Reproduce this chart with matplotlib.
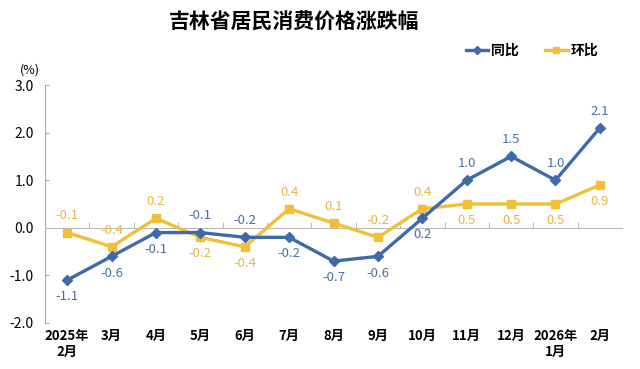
import matplotlib
matplotlib.use("Agg")
import matplotlib.pyplot as plt
from matplotlib.ticker import FixedLocator

plt.rcParams['font.family'] = ['Noto Sans CJK SC', 'DejaVu Sans']

# data
months = ['2025年\n2月', '3月', '4月', '5月', '6月', '7月', '8月', '9月',
          '10月', '11月', '12月', '2026年\n1月', '2月']
yoy = [-1.1, -0.6, -0.1, -0.1, -0.2, -0.2, -0.7, -0.6, 0.2, 1.0, 1.5, 1.0, 2.1]
mom = [-0.1, -0.4, 0.2, -0.2, -0.4, 0.4, 0.1, -0.2, 0.4, 0.5, 0.5, 0.5, 0.9]
# label side: 1 above the point, -1 below
yoy_side = [-1, -1, -1, 1, 1, -1, -1, -1, -1, 1, 1, 1, 1]
mom_side = [1, 1, 1, -1, -1, 1, 1, 1, 1, -1, -1, -1, -1]

blue = '#3e6aa9'
yellow = '#f2bf3a'
blue_txt = '#4a6f9e'
yellow_txt = '#e6b545'

fig = plt.figure(figsize=(6.4, 3.69), dpi=100)
ax = fig.add_axes([0.0703, 0.1247, 0.9017, 0.6449])

x = list(range(len(months)))
ax.plot(x, mom, color=yellow, lw=2.4, marker='s', ms=5.5, label='环比', zorder=3)
ax.plot(x, yoy, color=blue, lw=2.4, marker='D', ms=5, label='同比', zorder=4)

for xi, v, s in zip(x, yoy, yoy_side):
    ax.annotate(f'{v:.1f}', (xi, v), xytext=(0, 12 * s), textcoords='offset points',
                ha='center', va='center', color=blue_txt, fontsize=9.5)
for xi, v, s in zip(x, mom, mom_side):
    ax.annotate(f'{v:.1f}', (xi, v), xytext=(0, 12 * s), textcoords='offset points',
                ha='center', va='center', color=yellow_txt, fontsize=9.5)

ax.set_xlim(-0.5, len(months) - 0.5)
ax.set_ylim(-2.0, 3.0)
ax.set_yticks([-2, -1, 0, 1, 2, 3])
ax.set_yticklabels([f'{t:.1f}' for t in [-2, -1, 0, 1, 2, 3]], fontsize=10)
ax.tick_params(axis='y', direction='in', length=3, color='#aaaaaa', pad=8)

# zero line with small category separators
for side in ['top', 'right']:
    ax.spines[side].set_visible(False)
ax.spines['left'].set_color('#aaaaaa')
ax.spines['bottom'].set_position(('data', 0))
ax.spines['bottom'].set_color('#bbbbbb')
ax.xaxis.set_major_locator(FixedLocator([i + 0.5 for i in range(len(months) - 1)]))
ax.tick_params(axis='x', direction='in', length=4, color='#bbbbbb', labelbottom=False)

sec = ax.secondary_xaxis(-0.0)
sec.set_xticks(x)
sec.set_xticklabels(months, fontsize=9.5, fontweight='bold')
sec.tick_params(length=0, pad=4)
sec.spines['bottom'].set_visible(False)

fig.text(0.046, 0.81, '(%)', fontsize=9, ha='center', va='center')
fig.text(0.46, 0.94, '吉林省居民消费价格涨跌幅', fontsize=15, fontweight='bold',
         ha='center', va='center')

handles, labels = ax.get_legend_handles_labels()
leg = ax.legend(handles[::-1], labels[::-1], loc='upper right', ncol=2, frameon=False,
                bbox_to_anchor=(0.98, 1.225), fontsize=10, handlelength=1.6,
                columnspacing=1.9, handletextpad=0.2, markerscale=0.75)
for t in leg.get_texts():
    t.set_fontweight('bold')

fig.savefig('out.png', dpi=100)
